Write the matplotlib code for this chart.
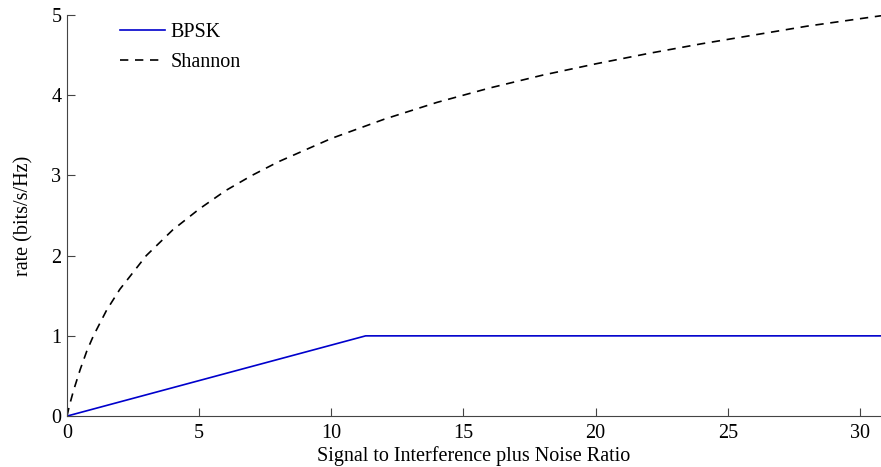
import numpy as np
from matplotlib import pyplot as plt

plt.rcParams['font.family'] = ['Liberation Serif', 'DejaVu Serif']

# values
bpsk_sinr = [0, 11.3, 30.8]
bpsk_rate = [0, 1.0, 1.0]

shannon_sinr = [0, 0.1, 0.25, 0.5, 0.75, 1, 1.5, 2, 3, 4, 5, 6, 7, 8, 10,
                12, 14, 16, 18, 20, 22, 24, 26, 28, 30.8]
shannon_rate = [0, 0.14, 0.32, 0.58, 0.81, 1.0, 1.32, 1.58, 2.0, 2.32, 2.58,
                2.81, 3.0, 3.17, 3.46, 3.70, 3.91, 4.09, 4.25, 4.39, 4.52,
                4.64, 4.75, 4.86, 4.99]

fs = 14.5

fig = plt.figure(figsize=(8.81, 4.67), dpi=100)
ax = fig.add_axes([0.076, 0.109, 0.924, 0.859])

ax.plot(bpsk_sinr, bpsk_rate, color="#0000cc", lw=1.2, label="BPSK")
ax.plot(shannon_sinr, shannon_rate, color="black", lw=1.2, ls=(0, (5, 4)), label="Shannon")

ax.set_xlim(0, 30.8)
ax.set_ylim(0, 5)
ax.set_xticks([0, 5, 10, 15, 20, 25, 30])
ax.set_yticks([0, 1, 2, 3, 4, 5])
for s in ["top", "right"]:
    ax.spines[s].set_visible(False)
for s in ["left", "bottom"]:
    ax.spines[s].set_color("#444444")
ax.tick_params(direction="in", length=6, labelsize=fs, color="#444444")
ax.tick_params(axis="x", pad=6)
ax.tick_params(axis="y", pad=4)
ax.set_xlabel("Signal to Interference plus Noise Ratio", fontsize=fs, labelpad=2)
ax.set_ylabel("rate (bits/s/Hz)", fontsize=fs, labelpad=13)
ax.legend(loc="upper left", frameon=False, fontsize=fs, bbox_to_anchor=(0.065, 0.98),
          borderpad=0, borderaxespad=0,
          handlelength=2.25, handletextpad=0.25, labelspacing=0.55)

fig.savefig("out.png", dpi=100)
